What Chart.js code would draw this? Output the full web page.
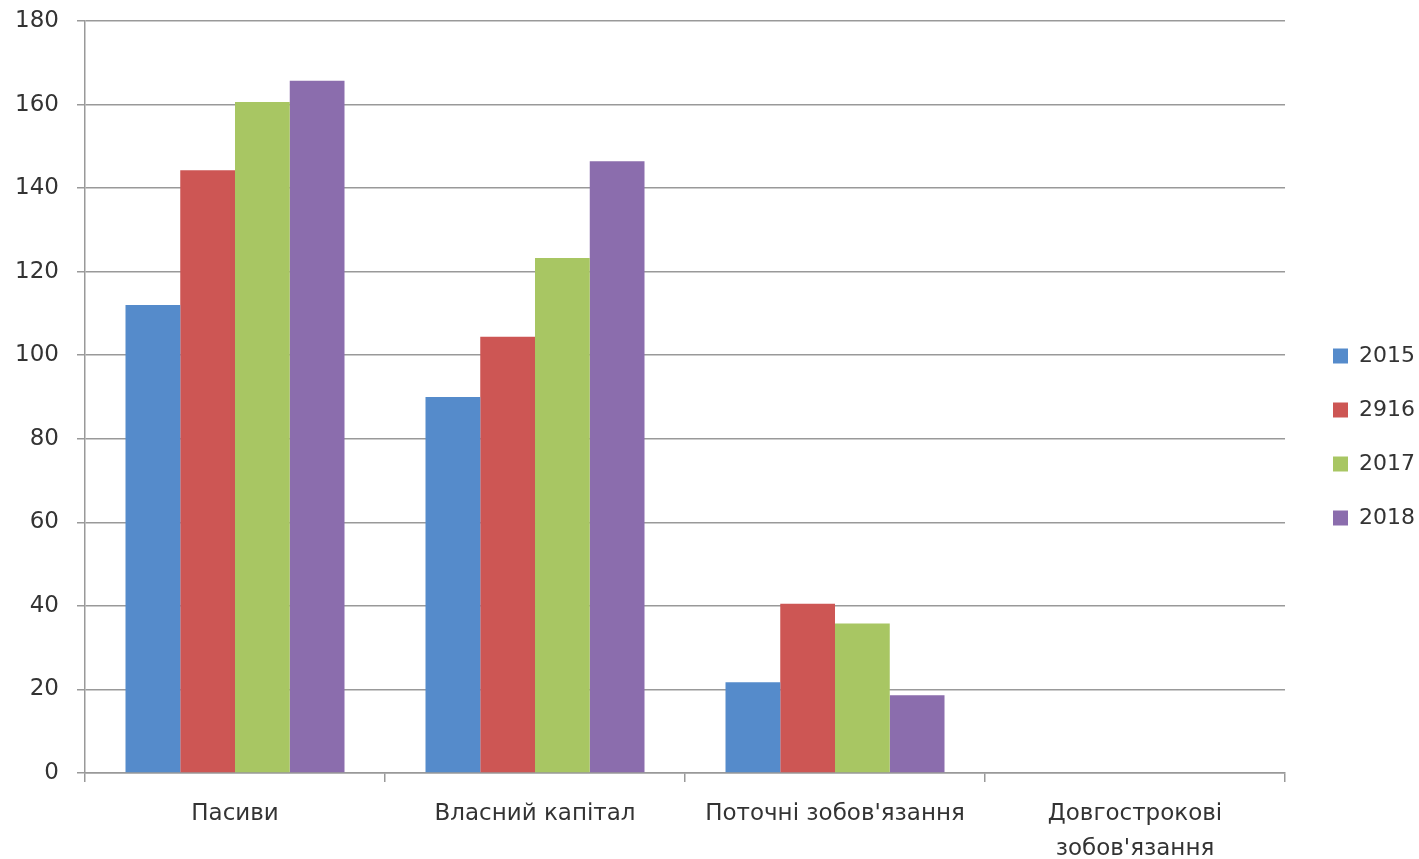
<!DOCTYPE html>
<html>
<head>
<meta charset="utf-8">
<script src="https://cdn.jsdelivr.net/npm/chart.js@4.4.1/dist/chart.umd.min.js"></script>
<style>
  html, body { margin: 0; padding: 0; background: #fff; }
  #wrap { width: 1419px; height: 859px; }
</style>
</head>
<body>
<div id="wrap"><canvas id="chart" width="1419" height="859"></canvas></div>
<script>
const categories = ['Пасиви', 'Власний капітал', "Поточні зобов'язання", ['Довгострокові', "зобов'язання"]];
const seriesNames = ['2015', '2916', '2017', '2018'];
const values2015 = [112, 90, 21.7, 0];
const values2016 = [144.3, 104.4, 40.5, 0];
const values2017 = [160.6, 123.3, 35.8, 0];
const values2018 = [165.7, 146.4, 18.6, 0];
const yTicks = [0, 20, 40, 60, 80, 100, 120, 140, 160, 180];

const colors = ['#558bcb', '#cd5654', '#a8c663', '#8b6dad'];
const allValues = [values2015, values2016, values2017, values2018];
const textColor = '#333333';
const gridColor = '#999999';
const fontFamily = '"DejaVu Sans", Verdana, sans-serif';

Chart.defaults.font.family = fontFamily;
Chart.defaults.color = textColor;

// push legend items a bit right/up without changing the plot width
const legendShift = {
    id: 'legendShift',
    afterLayout(chart) {
        const lg = chart.legend;
        lg.left += 16;
        lg.right += 16;
        lg.top -= 3;
        lg.bottom -= 3;
    }
};

new Chart(document.getElementById('chart'), {
    type: 'bar',
    data: {
        labels: categories,
        datasets: seriesNames.map((name, i) => ({
            label: name,
            data: allValues[i],
            backgroundColor: colors[i],
            categoryPercentage: 0.73,
            barPercentage: 1.0
        }))
    },
    plugins: [legendShift],
    options: {
        responsive: false,
        animation: false,
        layout: { padding: { top: 21, right: 10, bottom: 0, left: 0 } },
        plugins: {
            legend: {
                position: 'right',
                labels: {
                    boxWidth: 15,
                    boxHeight: 15,
                    padding: 32,
                    font: { size: 22 },
                    color: textColor
                }
            },
            tooltip: { enabled: false }
        },
        scales: {
            x: {
                afterFit: scale => { scale.height = 86; },
                grid: { drawOnChartArea: false, offset: true, tickLength: 9, color: gridColor, lineWidth: 1.5 },
                border: { color: gridColor, width: 1.5 },
                ticks: { font: { size: 23, lineHeight: 1.52 }, padding: 15, maxRotation: 0, autoSkip: false }
            },
            y: {
                min: 0,
                max: 180,
                afterBuildTicks: scale => { scale.ticks = yTicks.map(v => ({ value: v })); },
                afterFit: scale => {
                    scale.width = 85;
                    scale.paddingTop = 0;
                    scale.paddingBottom = 0;
                },
                grid: { color: gridColor, lineWidth: 1.5, tickLength: 8 },
                border: { color: gridColor, width: 1.5 },
                ticks: { font: { size: 23 }, padding: 18 }
            }
        }
    }
});
</script>
</body>
</html>
